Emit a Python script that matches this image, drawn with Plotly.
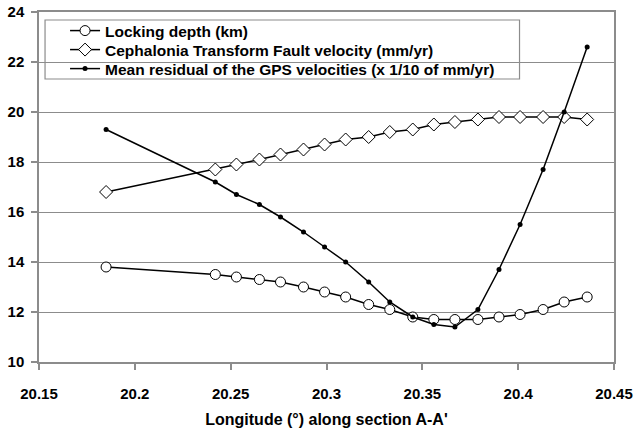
import plotly.graph_objects as go

# longitude of each point along section A-A'
longitude = [20.185, 20.242, 20.253, 20.265, 20.276, 20.288, 20.299, 20.310, 20.322,
             20.333, 20.345, 20.356, 20.367, 20.379, 20.390, 20.401, 20.413, 20.424, 20.436]
locking_depth = [13.8, 13.5, 13.4, 13.3, 13.2, 13.0, 12.8, 12.6, 12.3,
                 12.1, 11.8, 11.7, 11.7, 11.7, 11.8, 11.9, 12.1, 12.4, 12.6]
ctf_velocity = [16.8, 17.7, 17.9, 18.1, 18.3, 18.5, 18.7, 18.9, 19.0,
                19.2, 19.3, 19.5, 19.6, 19.7, 19.8, 19.8, 19.8, 19.8, 19.7]
gps_residual = [19.3, 17.2, 16.7, 16.3, 15.8, 15.2, 14.6, 14.0, 13.2,
                12.4, 11.8, 11.5, 11.4, 12.1, 13.7, 15.5, 17.7, 20.0, 22.6]

FONT = "Liberation Sans, Arial, sans-serif"
GREY = "#8c8c8c"

fig = go.Figure()
fig.add_trace(go.Scatter(
    x=longitude, y=locking_depth, mode="lines+markers",
    name="<b>Locking depth (km)</b>", legend="legend",
    line=dict(color="black", width=1.5),
    marker=dict(symbol="circle", size=10, color="white", line=dict(color="black", width=1)),
))
fig.add_trace(go.Scatter(
    x=longitude, y=ctf_velocity, mode="lines+markers",
    name="<b>Cephalonia Transform Fault velocity (mm/yr)</b>", legend="legend2",
    line=dict(color="black", width=1.5),
    marker=dict(symbol="diamond", size=10, color="white", line=dict(color="black", width=1)),
))
fig.add_trace(go.Scatter(
    x=longitude, y=gps_residual, mode="lines+markers",
    name="<b>Mean residual of the GPS velocities (x 1/10 of mm/yr)</b>", legend="legend3",
    line=dict(color="black", width=1.5),
    marker=dict(symbol="circle", size=5, color="black"),
))

# one legend per row so the rows can sit as tightly as in the original
legend_style = dict(x=0.0453, xanchor="left", yanchor="middle",
                    bgcolor="rgba(0,0,0,0)", borderwidth=0,
                    font=dict(size=15.5), itemwidth=30)

fig.update_layout(
    width=634, height=428,
    paper_bgcolor="white", plot_bgcolor="white",
    margin=dict(l=39, r=20, t=12, b=66),
    font=dict(family=FONT, size=15, color="black"),
    showlegend=True,
    legend=dict(y=0.9457, **legend_style),
    legend2=dict(y=0.8914, **legend_style),
    legend3=dict(y=0.8371, **legend_style),
    shapes=[dict(
        type="rect", xref="x domain", yref="y domain", layer="below",
        x0=0.0105, x1=0.8357, y0=0.8086, y1=0.9771,
        line=dict(color=GREY, width=1.2), fillcolor="white",
    )],
    xaxis=dict(
        range=[20.15, 20.45], dtick=0.05, tick0=20.15, automargin=False,
        showgrid=False, zeroline=False,
        showline=True, linecolor=GREY, linewidth=1.5, mirror=True,
        ticks="outside", ticklen=6, tickcolor=GREY, tickwidth=1.5,
        ticklabelstandoff=11,
        tickfont=dict(size=15, family=FONT), tickformat="~g",
        title=dict(text="<b>Longitude (°) along section A-A'</b>",
                   font=dict(size=16, family=FONT), standoff=13),
    ),
    yaxis=dict(
        range=[10, 24], dtick=2, automargin=False,
        showgrid=True, gridcolor=GREY, gridwidth=1.2, zeroline=False,
        showline=True, linecolor=GREY, linewidth=1.5, mirror=True,
        ticks="outside", ticklen=6, tickcolor=GREY, tickwidth=1.5,
        ticklabelstandoff=4,
        tickfont=dict(size=15, family=FONT),
    ),
)
fig.update_xaxes(tickprefix="<b>", ticksuffix="</b>")
fig.update_yaxes(tickprefix="<b>", ticksuffix="</b>")

# drop the browser's default 8px body margin so the figure sits at the page corner
fig.write_html("out.html", config={"displayModeBar": False},
               post_script="document.body.style.margin='0';")
